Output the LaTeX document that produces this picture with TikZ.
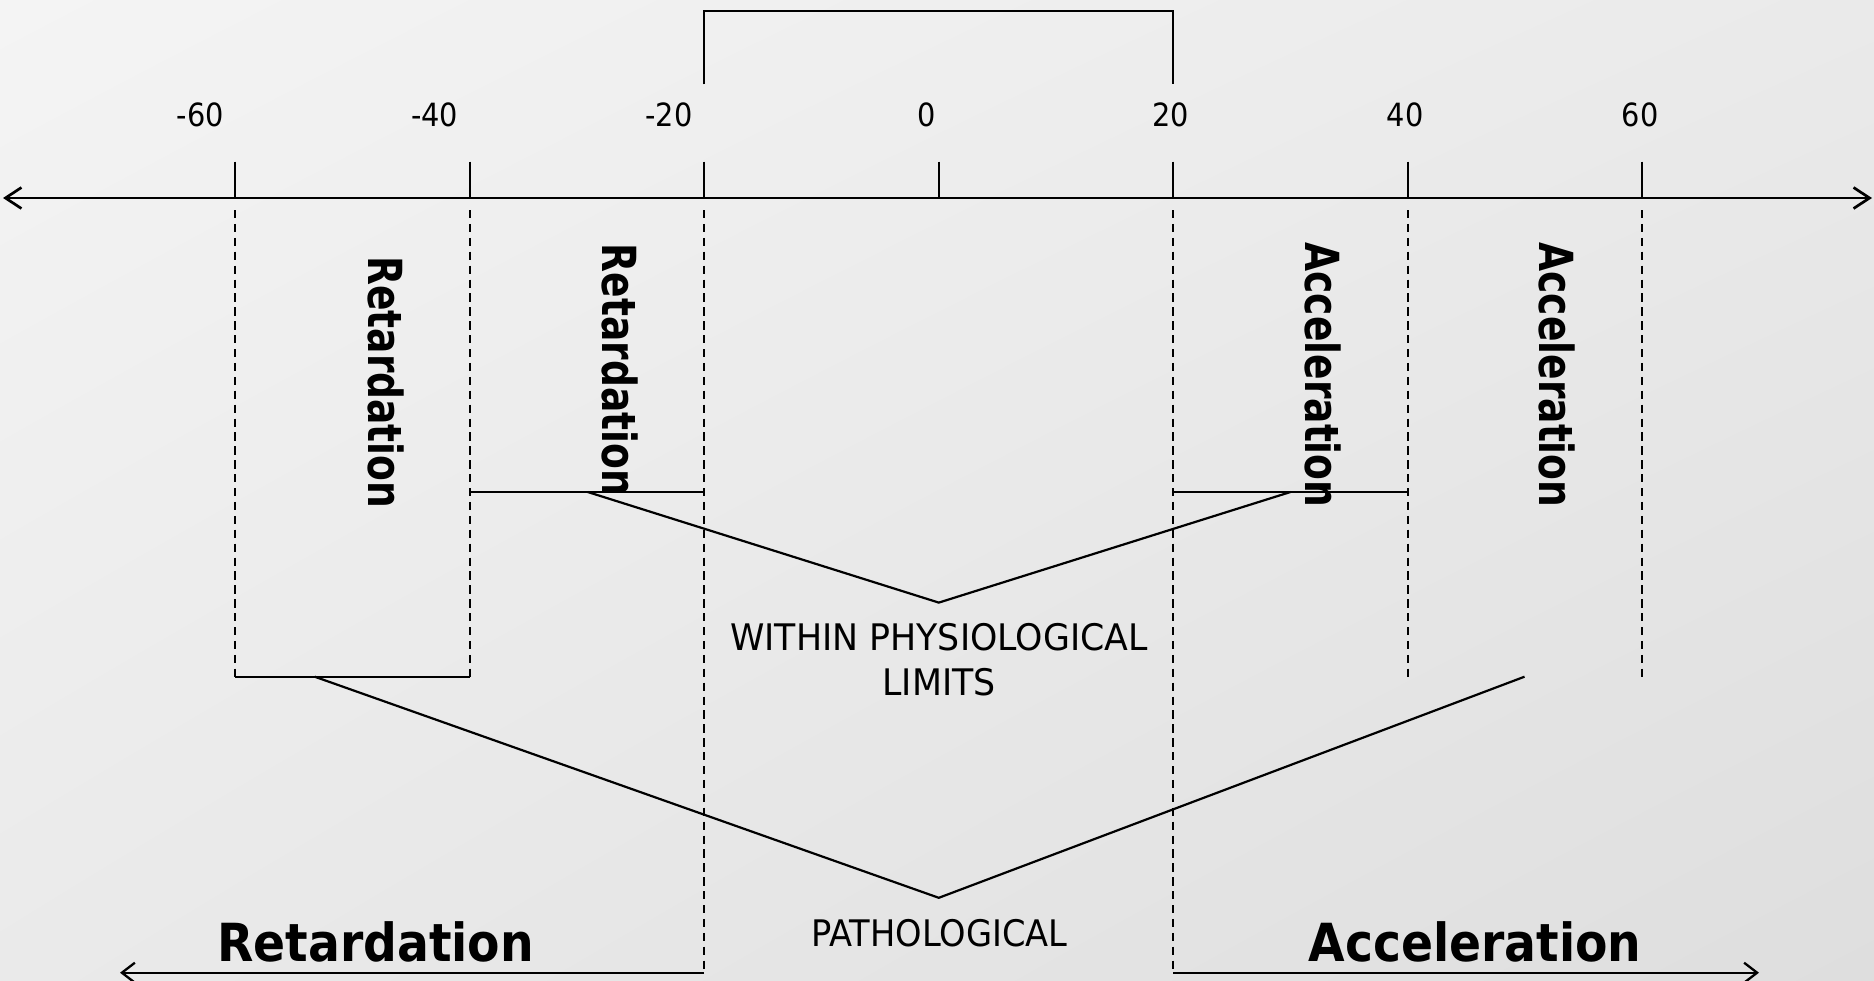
\documentclass[tikz,border=0pt]{standalone}
\usepackage{fontspec}
\setmainfont{DejaVu Sans}
\newfontfamily\numfont[FakeStretch=0.9]{DejaVu Sans}
\newfontfamily\regfont[FakeStretch=0.95]{DejaVu Sans}
\newfontfamily\pathfont[FakeStretch=0.92]{DejaVu Sans}
\newfontfamily\vboldfont[FakeStretch=0.8]{DejaVu Sans Bold}
\newfontfamily\hboldfont[FakeStretch=0.9]{DejaVu Sans Bold}
\usetikzlibrary{arrows.meta,shadings}
\definecolor{bgTL}{HTML}{F4F4F4}
\definecolor{bgMid}{HTML}{EAEAEA}
\definecolor{bgBR}{HTML}{DEDEDE}
\begin{document}
\begin{tikzpicture}[x=1pt,y=-1pt,
  axisln/.style={line width=2.7pt,
    {Straight Barb[length=16pt,width=21pt]}-{Straight Barb[length=16pt,width=21pt]}},
  botarrow/.style={line width=2.3pt,-{Straight Barb[length=13pt,width=20pt]}},
  tickln/.style={line width=2pt},
  dashln/.style={line width=2pt,dash pattern=on 8.3pt off 5.6pt},
  thinln/.style={line width=2.2pt},
  numlbl/.style={anchor=base,inner sep=0pt,font={\numfont\fontsize{32}{38}\selectfont}},
  vlbl/.style={rotate=-90,inner sep=0pt,font={\vboldfont\fontsize{47}{56}\selectfont}},
  hlbl/.style={anchor=base,inner sep=0pt,font={\hboldfont\fontsize{52.5}{62}\selectfont}},
]
\useasboundingbox (0,0) rectangle (1874,980);
\shade[upper left=bgTL,upper right=bgMid,lower left=bgMid,lower right=bgBR] (0,0) rectangle (1874,980);

% axis
\coordinate (axL) at (3,198);
\coordinate (axR) at (1872,198);
\draw[axisln] (axL) -- (axR);

% ticks and dashed guides
\foreach \n/\x/\e in {m3/235/676.7, m2/469.5/676.7, m1/704/972.7, z/938.5/198, p1/1173/972.7, p2/1407.5/676.7, p3/1642/676.7}{
  \coordinate (tt\n) at (\x,161.7);
  \coordinate (ta\n) at (\x,198);
  \coordinate (ds\n) at (\x,210);
  \coordinate (te\n) at (\x,\e);
  \draw[tickln] (tt\n) -- (ta\n);
}
\foreach \n in {m3,m2,m1,p1,p2,p3}{
  \draw[dashln] (ds\n) -- (te\n);
}

% labels
\node[numlbl] (lm3) at (200.5,126.7) {-60};
\node[numlbl] (lm2) at (434.6,126.7) {-40};
\node[numlbl] (lm1) at (668.8,126.7) {-20};
\node[numlbl] (lz)  at (926.5,126.7) {0};
\node[numlbl] (lp1) at (1170.8,126.7) {20};
\node[numlbl] (lp2) at (1405,126.7) {40};
\node[numlbl] (lp3) at (1640,126.7) {60};

% top bracket
\coordinate (brA) at (704,84.3);
\coordinate (brB) at (704,10.7);
\coordinate (brC) at (1173,10.7);
\coordinate (brD) at (1173,84.3);
\draw[thinln] (brA) -- (brB) -- (brC) -- (brD);

% horizontal bars
\coordinate (hL1) at (235,676.7);
\coordinate (hL2) at (469.5,676.7);
\draw[thinln] (hL1) -- (hL2);
\coordinate (hM1) at (469.5,492);
\coordinate (hM2) at (704,492);
\draw[thinln] (hM1) -- (hM2);
\coordinate (hN1) at (1173,492);
\coordinate (hN2) at (1407.5,492);
\draw[thinln] (hN1) -- (hN2);

% inner V
\coordinate (iv1) at (587.7,492);
\coordinate (iv2) at (938.8,602.6);
\coordinate (iv3) at (1290.5,492);
\draw[thinln] (iv1) -- (iv2) -- (iv3);

% outer V
\coordinate (ov1) at (314.7,676.7);
\coordinate (ov2) at (938.8,897.8);
\coordinate (ov3) at (1524.5,676.7);
\draw[thinln] (ov1) -- (ov2) -- (ov3);

% bottom arrows
\coordinate (bL) at (120,972.7);
\coordinate (bR) at (1759,972.7);
\draw[botarrow] (tem1) -- (bL);
\draw[botarrow] (tep1) -- (bR);

% vertical labels
\node[vlbl] (vr1) at (386,382.3) {Retardation};
\node[vlbl] (vr2) at (620.5,370) {Retardation};
\node[vlbl] (va1) at (1323.5,375) {Acceleration};
\node[vlbl] (va2) at (1557.5,375) {Acceleration};

% centre texts
\node[anchor=north,inner sep=0pt,align=center,font={\regfont\fontsize{36.6}{45}\selectfont}] (within) at (939,623.3) {WITHIN PHYSIOLOGICAL\\LIMITS};
\node[anchor=base,inner sep=0pt,font={\pathfont\fontsize{36.6}{44}\selectfont}] (patho) at (939.3,946) {PATHOLOGICAL};

% bottom labels
\node[hlbl] (hret) at (375.6,961.7) {Retardation};
\node[hlbl] (hacc) at (1475,961.7) {Acceleration};
\end{tikzpicture}
\end{document}
